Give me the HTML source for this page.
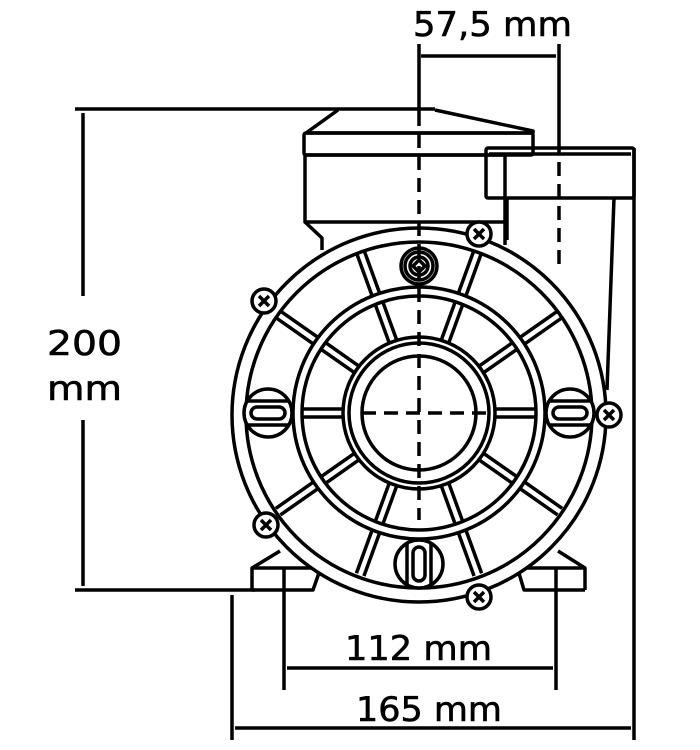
<!DOCTYPE html>
<html><head><style>html,body{margin:0;padding:0;background:#fff}svg{display:block}</style></head><body>
<svg width="700" height="750" viewBox="0 0 700 750" xmlns="http://www.w3.org/2000/svg">
<defs>
<g id="screw"><circle r="12" fill="#fff" stroke="#000" stroke-width="3.5"/><path d="M-5,-5L5,5M5,-5L-5,5" stroke="#000" stroke-width="3.5"/></g>
</defs>
<g fill="none" stroke="#000" stroke-width="3.5" stroke-linejoin="round">
<line x1="75" y1="109" x2="435" y2="109"/>
<line x1="75" y1="590" x2="255" y2="590"/>
<line x1="83" y1="113" x2="83" y2="296"/>
<line x1="83" y1="420" x2="83" y2="586"/>
<line x1="421" y1="56" x2="556" y2="56"/>
<line x1="419" y1="44" x2="419" y2="112"/>
<line x1="559" y1="44" x2="559" y2="140"/>
<line x1="559" y1="140" x2="559" y2="270" stroke-dasharray="14,8"/>
<path d="M338,110 L306,133 L533,133 L533,131 L435,110"/>
<rect x="304" y="133" width="229" height="22" rx="2"/>
<rect x="305" y="155" width="200" height="67"/>
<path d="M305,222 L322,238 L322,250"/>
<line x1="505" y1="222" x2="505" y2="245"/>
<rect x="486" y="148" width="148" height="50" rx="2"/>
<line x1="489" y1="154" x2="631" y2="154"/>
<line x1="507" y1="198" x2="507" y2="240"/>
<path d="M614,198 L607,390"/>
<line x1="634" y1="148" x2="634" y2="740"/>
<path d="M252,590 L252,568 L280,551 M252,568 L318,568 M252,590 L313,590 L320,570"/>
<path d="M585,590 L585,568 L558,551 M585,568 L520,568 M585,590 L524,590 L518,570"/>
<line x1="284" y1="568" x2="284" y2="690"/>
<line x1="556" y1="568" x2="556" y2="690"/>
<line x1="287" y1="668" x2="553" y2="668"/>
<line x1="232" y1="595" x2="232" y2="740"/>
<line x1="235" y1="728" x2="631" y2="728"/>
<circle cx="419" cy="415" r="187" fill="#fff"/>
<circle cx="419" cy="415" r="173"/>
<circle cx="419" cy="413" r="126"/>
<circle cx="419" cy="413" r="117"/>
<circle cx="419" cy="413" r="76"/>
<circle cx="419" cy="413" r="70"/>
<circle cx="419" cy="413" r="57"/>
<g transform="translate(419,413) rotate(-20)"><path d="M-4,-126 L-4,-172 M4,-126 L4,-172 M-4,-76 L-4,-117 M4,-76 L4,-117"/></g>
<g transform="translate(419,413) rotate(20)"><path d="M-4,-126 L-4,-172 M4,-126 L4,-172 M-4,-76 L-4,-117 M4,-76 L4,-117"/></g>
<g transform="translate(419,413) rotate(-55)"><path d="M-4,-126 L-4,-172 M4,-126 L4,-172 M-4,-76 L-4,-117 M4,-76 L4,-117"/></g>
<g transform="translate(419,413) rotate(55)"><path d="M-4,-126 L-4,-172 M4,-126 L4,-172 M-4,-76 L-4,-117 M4,-76 L4,-117"/></g>
<g transform="translate(419,413) rotate(-90)"><path d="M-4,-76 L-4,-117 M4,-76 L4,-117"/></g>
<g transform="translate(419,413) rotate(90)"><path d="M-4,-76 L-4,-117 M4,-76 L4,-117"/></g>
<g transform="translate(419,413) rotate(-125)"><path d="M-4,-126 L-4,-172 M4,-126 L4,-172 M-4,-76 L-4,-117 M4,-76 L4,-117"/></g>
<g transform="translate(419,413) rotate(125)"><path d="M-4,-126 L-4,-172 M4,-126 L4,-172 M-4,-76 L-4,-117 M4,-76 L4,-117"/></g>
<g transform="translate(419,413) rotate(-160)"><path d="M-4,-126 L-4,-172 M4,-126 L4,-172 M-4,-76 L-4,-117 M4,-76 L4,-117"/></g>
<g transform="translate(419,413) rotate(160)"><path d="M-4,-126 L-4,-172 M4,-126 L4,-172 M-4,-76 L-4,-117 M4,-76 L4,-117"/></g>
<circle cx="268" cy="413" r="24" fill="#fff"/>
<rect x="251" y="407" width="34" height="12" rx="6"/>
<line x1="247" y1="401" x2="289" y2="401"/><line x1="247" y1="425" x2="289" y2="425"/>
<circle cx="570" cy="413" r="24" fill="#fff"/>
<rect x="553" y="407" width="34" height="12" rx="6"/>
<line x1="549" y1="401" x2="591" y2="401"/><line x1="549" y1="425" x2="591" y2="425"/>
<circle cx="419" cy="564" r="24" fill="#fff"/>
<rect x="413" y="547" width="12" height="34" rx="6"/>
<line x1="407" y1="543" x2="407" y2="585"/><line x1="431" y1="543" x2="431" y2="585"/>
<circle cx="419" cy="266" r="18" fill="#fff"/>
<circle cx="419" cy="266" r="14"/>
<circle cx="419" cy="266" r="9"/>
<path d="M419,260 L425,266 L419,272 L413,266Z"/>
<line x1="419" y1="112" x2="419" y2="520" stroke-dasharray="14,8"/>
<line x1="362" y1="413" x2="496" y2="413" stroke-dasharray="14,8"/>
</g>
<use href="#screw" x="479" y="234"/>
<use href="#screw" x="264" y="301"/>
<use href="#screw" x="609" y="415"/>
<use href="#screw" x="266" y="525"/>
<use href="#screw" x="479" y="597"/>
<g font-family="DejaVu Sans, Liberation Sans, sans-serif" font-size="34" fill="#000" stroke="#000" stroke-width="0.6">
<text x="413" y="36" textLength="159" lengthAdjust="spacingAndGlyphs">57,5 mm</text>
<text x="47" y="355" textLength="75" lengthAdjust="spacingAndGlyphs">200</text>
<text x="47" y="400" textLength="75" lengthAdjust="spacingAndGlyphs">mm</text>
<text x="345" y="660" textLength="147" lengthAdjust="spacingAndGlyphs">112 mm</text>
<text x="356" y="721" textLength="146" lengthAdjust="spacingAndGlyphs">165 mm</text>
</g>
</svg>
</body></html>
